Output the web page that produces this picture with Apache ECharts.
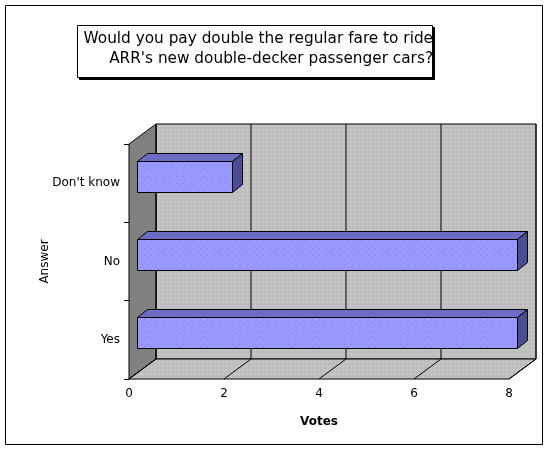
<!DOCTYPE html>
<html>
<head>
<meta charset="utf-8">
<script src="https://cdn.jsdelivr.net/npm/echarts@6/dist/echarts.min.js"></script>
<style>
  html, body { margin: 0; padding: 0; background: #fff; }
  #chart { width: 548px; height: 449px; }
</style>
</head>
<body>
<div id="chart"></div>
<script>
// data
var categories = ['Yes', 'No', "Don't know"]
var votes = [8, 8, 2]
var voteTicks = [0, 2, 4, 6, 8]
var titleLines = ['Would you pay double the regular fare to ride', "ARR's new double-decker passenger cars?"]

// depth of the 3d box (back wall offset)
var DX = 27, DY = -20

// little dotted textures, like the old mac fills
function makePattern (base, dots, size) {
  var c = document.createElement('canvas')
  c.width = size; c.height = size
  var ctx = c.getContext('2d')
  ctx.fillStyle = base
  ctx.fillRect(0, 0, size, size)
  dots.forEach(function (d) {
    ctx.fillStyle = d[2]
    ctx.fillRect(d[0], d[1], 1, 1)
  })
  return { image: c, repeat: 'repeat' }
}
var barFill = makePattern('#9999ff', [[1, 1, '#7c7ce0'], [4, 3, '#7c7ce0'], [2, 5, '#8585ea']], 7)
var wallFill = makePattern('#c0c0c0', [[0, 0, '#b6b6b6'], [2, 1, '#c8c8c8'], [1, 3, '#b6b6b6'], [3, 2, '#c8c8c8']], 4)
var sideFill = makePattern('#4e4e96', [[0, 0, '#3c3c80'], [2, 2, '#3c3c80']], 4)

function renderWalls (params, api) {
  var cs = params.coordSys
  var top = cs.y, bot = cs.y + cs.height
  var x0 = api.coord([voteTicks[0], 0])[0]
  var x1 = api.coord([voteTicks[voteTicks.length - 1], 0])[0]
  var line = { stroke: '#000', lineWidth: 1 }
  var kids = [
    // back wall
    { type: 'rect', shape: { x: x0 + DX, y: top + DY, width: x1 - x0, height: bot - top }, style: { fill: wallFill, stroke: '#000', lineWidth: 1 } },
    // left wall
    { type: 'polygon', shape: { points: [[x0, top], [x0 + DX, top + DY], [x0 + DX, bot + DY], [x0, bot]] }, style: { fill: '#808080', stroke: '#000', lineWidth: 1 } },
    // floor
    { type: 'polygon', shape: { points: [[x0, bot], [x1, bot], [x1 + DX, bot + DY], [x0 + DX, bot + DY]] }, style: { fill: wallFill, stroke: '#000', lineWidth: 1 } }
  ]
  voteTicks.forEach(function (v) {
    var x = api.coord([v, 0])[0]
    kids.push({ type: 'line', shape: { x1: x + DX, y1: top + DY, x2: x + DX, y2: bot + DY }, style: line })
    kids.push({ type: 'line', shape: { x1: x, y1: bot, x2: x + DX, y2: bot + DY }, style: line })
  })
  return { type: 'group', children: kids }
}

function renderBar (params, api) {
  var left = api.coord([0, api.value(1)])
  var right = api.coord([api.value(0), api.value(1)])
  var ox = 8, oy = -7, dx = 10, dy = -8, h = 31
  var x1 = Math.round(left[0] + ox) + 0.5
  var x2 = Math.round(right[0] + ox) + 0.5
  var y1 = Math.round(left[1] + oy - h / 2) + 0.5
  var y2 = y1 + h
  return {
    type: 'group',
    children: [
      { type: 'polygon', shape: { points: [[x1, y1], [x2, y1], [x2 + dx, y1 + dy], [x1 + dx, y1 + dy]] }, style: { fill: '#6c6cc2', stroke: '#000', lineWidth: 1 } },
      { type: 'polygon', shape: { points: [[x2, y1], [x2 + dx, y1 + dy], [x2 + dx, y2 + dy], [x2, y2]] }, style: { fill: sideFill, stroke: '#000', lineWidth: 1 } },
      { type: 'rect', shape: { x: x1, y: y1, width: x2 - x1, height: h }, style: { fill: barFill, stroke: '#000', lineWidth: 1 } }
    ]
  }
}

var chart = echarts.init(document.getElementById('chart'))
var option = {
  animation: false,
  backgroundColor: '#fff',
  textStyle: { fontFamily: 'DejaVu Sans', color: '#000' },
  grid: { left: 129, right: 39, top: 144, bottom: 70 },
  xAxis: {
    type: 'value',
    min: 0,
    max: 8,
    interval: 2,
    axisLine: { show: false },
    axisTick: { show: false },
    splitLine: { show: false },
    axisLabel: { color: '#000', fontSize: 12, margin: 9 },
    name: 'Votes',
    nameLocation: 'middle',
    nameGap: 37,
    nameMoveOverlap: false,
    nameTextStyle: { color: '#000', fontSize: 12, fontWeight: 'bold' }
  },
  yAxis: {
    type: 'category',
    data: categories,
    axisLine: { show: false },
    axisTick: { show: true, length: 5, lineStyle: { color: '#000' } },
    axisLabel: { color: '#000', fontSize: 12, margin: 9 },
    name: 'Answer',
    nameLocation: 'middle',
    nameGap: 78,
    nameRotate: 90,
    nameMoveOverlap: false,
    nameTextStyle: { color: '#000', fontSize: 12 }
  },
  graphic: [
    { type: 'rect', shape: { x: 5.5, y: 5.5, width: 537, height: 439 }, style: { fill: 'none', stroke: '#000', lineWidth: 1 }, z: 100 },
    // title box: black shadow first, then the white box
    { type: 'rect', shape: { x: 79.5, y: 27.5, width: 355, height: 52 }, style: { fill: '#000', stroke: '#000', lineWidth: 1 }, z: 100 },
    { type: 'rect', shape: { x: 77.5, y: 25.5, width: 355, height: 52 }, style: { fill: '#fff', stroke: '#000', lineWidth: 1 }, z: 100 },
    {
      type: 'text', x: 433, y: 29, z: 101,
      style: { text: titleLines.join('\n'), align: 'right', verticalAlign: 'top', fill: '#000', font: '15.3px "DejaVu Sans"', lineHeight: 20 }
    }
  ],
  series: [
    { type: 'custom', name: 'walls', renderItem: renderWalls, data: [[0, 0]], silent: true, z: 1 },
    { type: 'custom', name: 'Votes', renderItem: renderBar, encode: { x: 0, y: 1 }, data: votes.map(function (v, i) { return [v, i] }), z: 2 }
  ]
}
chart.setOption(option)
</script>
</body>
</html>
